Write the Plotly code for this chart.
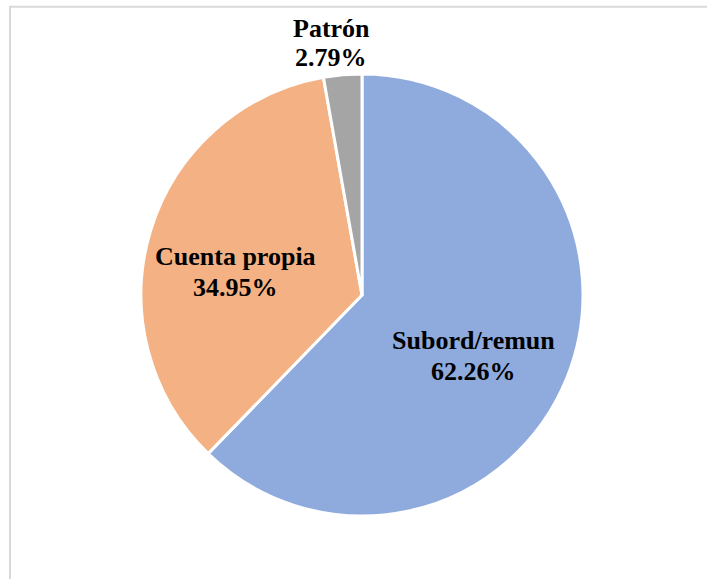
import plotly.graph_objects as go

# Employment position shares (%)
categories = ["Subord/remun", "Cuenta propia", "Patrón"]
shares = [62.26, 34.95, 2.79]
colors = ["#8FAADC", "#F4B183", "#A5A5A5"]

W, H = 707, 579

# label placement (pixel centres of the two text lines for each slice)
label_pos = {
    "Subord/remun": (473, 340, 371),
    "Cuenta propia": (236, 256, 287),
    "Patrón": (331, 28, 57),
}

fig = go.Figure(
    go.Pie(
        labels=categories,
        values=shares,
        sort=False,
        direction="clockwise",
        rotation=0,
        marker=dict(colors=colors, line=dict(color="white", width=3)),
        textinfo="none",
        hoverinfo="label+percent",
        showlegend=False,
        domain=dict(x=[141 / W, 583 / W], y=[(H - 516) / H, (H - 74) / H]),
    )
)

font = dict(family="Liberation Serif", size=26, color="black")
annotations = []
for cat, val in zip(categories, shares):
    x, y1, y2 = label_pos[cat]
    for txt, yy in ((cat, y1), (f"{val:.2f}%", y2)):
        annotations.append(
            dict(
                x=x / W, y=1 - yy / H, xref="paper", yref="paper",
                text=f"<b>{txt}</b>", showarrow=False,
                xanchor="center", yanchor="middle", font=font,
            )
        )

fig.update_layout(
    width=W, height=H,
    margin=dict(l=0, r=0, t=0, b=0),
    paper_bgcolor="white",
    plot_bgcolor="white",
    annotations=annotations,
    shapes=[
        dict(
            type="rect", xref="paper", yref="paper",
            x0=10 / W, y0=-0.05, x1=1.05, y1=1 - 6.7 / H,
            line=dict(color="#D9D9D9", width=2), fillcolor="rgba(0,0,0,0)",
            layer="below",
        )
    ],
)

fig.write_html("out.html")
